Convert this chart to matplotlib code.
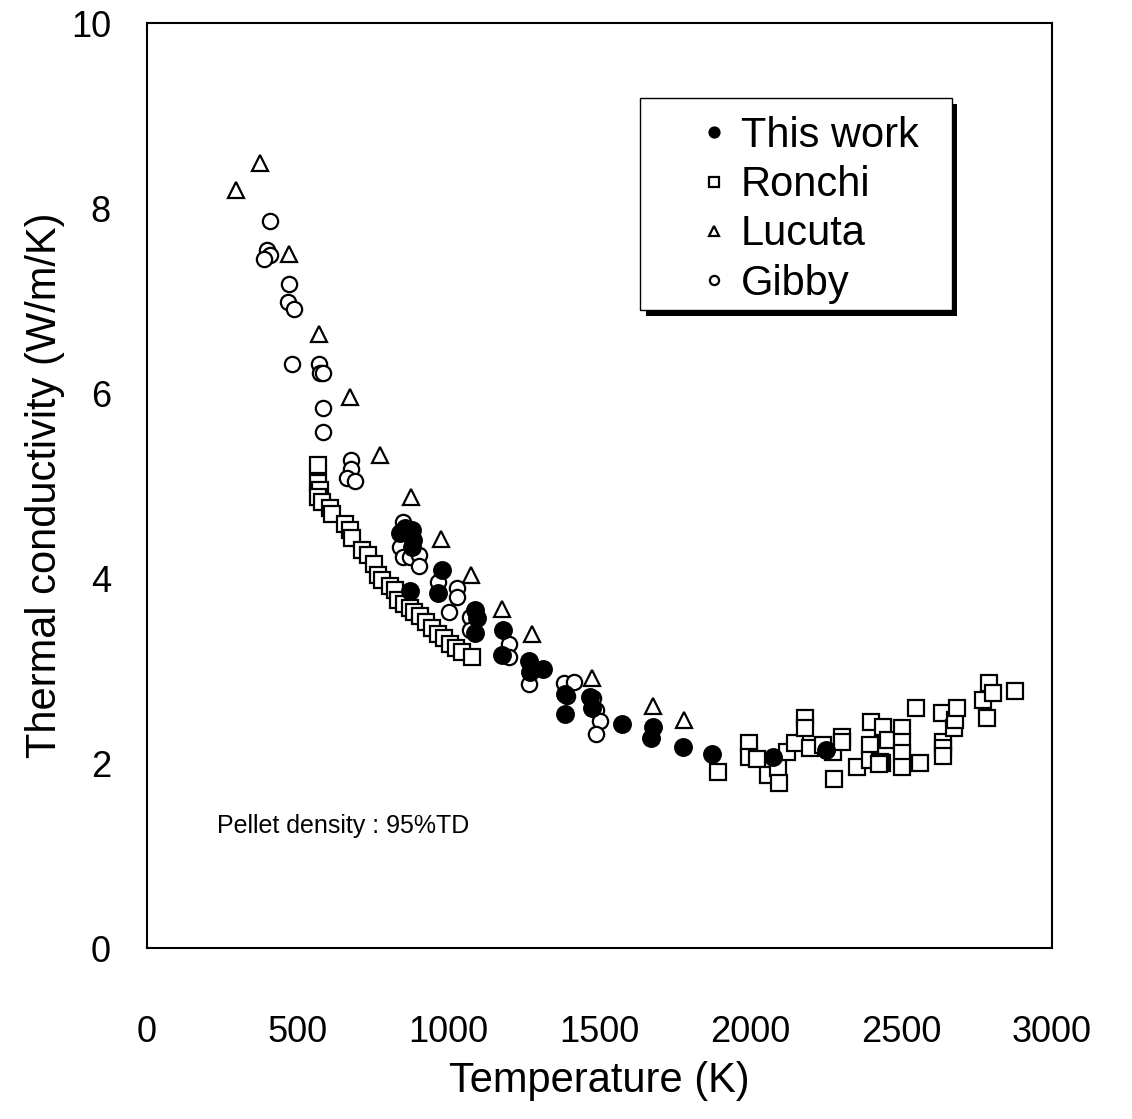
import matplotlib
matplotlib.use("Agg")
import matplotlib.pyplot as plt
from matplotlib.patches import Rectangle

plt.rcParams['font.family'] = ['Liberation Sans', 'DejaVu Sans']

# This work
tw_T = [839, 855, 878, 882, 878, 872, 978, 965, 1087, 1094, 1087, 1180, 1177,
        1266, 1270, 1313, 1386, 1386, 1468, 1475, 1575, 1677, 1671, 1777, 1873,
        2075, 2251]
tw_k = [4.49, 4.54, 4.52, 4.41, 4.34, 3.86, 4.09, 3.84, 3.65, 3.57, 3.41, 3.44,
        3.17, 3.10, 2.98, 3.02, 2.75, 2.53, 2.71, 2.59, 2.42, 2.39, 2.27, 2.17,
        2.10, 2.06, 2.14]

# Ronchi
ro_T = [567, 567, 573, 567, 580, 607, 613, 656, 673, 680, 713, 733, 752, 766,
        779, 805, 822, 832, 852, 872, 885, 905, 925, 945, 965, 985, 1004, 1024,
        1044, 1077,
        1893, 1996, 1996, 2022, 2059, 2092, 2095, 2122, 2148, 2181, 2181, 2198,
        2241, 2274, 2277, 2304, 2304, 2354, 2397, 2397, 2400, 2436, 2440, 2456,
        2503, 2503, 2503, 2503, 2549, 2562, 2635, 2639, 2639, 2639, 2675, 2678,
        2685, 2771, 2784, 2791, 2804, 2877, 2430, 2425]
ro_k = [5.22, 5.03, 4.95, 4.88, 4.82, 4.76, 4.69, 4.58, 4.52, 4.43, 4.30, 4.25,
        4.15, 4.03, 3.98, 3.91, 3.87, 3.76, 3.72, 3.68, 3.63, 3.59, 3.52, 3.46,
        3.39, 3.35, 3.29, 3.24, 3.20, 3.15,
        1.90, 2.22, 2.06, 2.04, 1.87, 1.95, 1.78, 2.12, 2.22, 2.49, 2.38, 2.16,
        2.19, 2.12, 1.83, 2.28, 2.23, 1.96, 2.19, 2.03, 2.44, 2.00, 2.39, 2.25,
        2.38, 2.23, 2.11, 1.96, 2.59, 2.00, 2.54, 2.23, 2.16, 2.08, 2.38, 2.46,
        2.59, 2.68, 2.49, 2.86, 2.76, 2.78, 2.01, 1.99]

# Lucuta
lu_T = [295, 375, 471, 570, 673, 772, 875, 974, 1074, 1176, 1276, 1475, 1677, 1780]
lu_k = [8.19, 8.49, 7.50, 6.64, 5.96, 5.33, 4.88, 4.42, 4.03, 3.67, 3.39, 2.92,
        2.62, 2.47]

# Gibby
gi_T = [408, 398, 408, 388, 471, 467, 487, 481, 570, 573, 583, 583, 583, 676,
        676, 663, 690, 849, 839, 849, 872, 902, 902, 965, 1028, 1028, 1001, 1071,
        1071, 1200, 1200, 1266, 1381, 1414, 1391, 1477, 1487, 1500, 1487]
gi_k = [7.86, 7.55, 7.49, 7.45, 7.18, 6.98, 6.91, 6.31, 6.31, 6.22, 6.22, 5.84,
        5.58, 5.28, 5.18, 5.08, 5.05, 4.61, 4.34, 4.23, 4.23, 4.25, 4.13, 3.96,
        3.89, 3.79, 3.63, 3.58, 3.44, 3.29, 3.15, 2.85, 2.87, 2.88, 2.72, 2.70,
        2.57, 2.45, 2.31]

fig = plt.figure(figsize=(11.32, 11.19), dpi=100)
ax = fig.add_axes([0.1299, 0.1528, 0.7994, 0.8266])

ms = 11
mew = 1.6
ax.plot(ro_T, ro_k, 's', ms=ms, mfc='white', mec='black', mew=mew, ls='none', label='Ronchi', zorder=2)
ax.plot(lu_T, lu_k, '^', ms=ms+1, mfc='white', mec='black', mew=mew, ls='none', label='Lucuta', zorder=2)
ax.plot(gi_T, gi_k, 'o', ms=ms, mfc='white', mec='black', mew=mew, ls='none', label='Gibby', zorder=2)
ax.plot(tw_T, tw_k, 'o', ms=ms+1, mfc='black', mec='black', mew=mew, ls='none', label='This work', zorder=3)

ax.set_xlim(0, 3000)
ax.set_ylim(0, 10)
ax.set_xticks([0, 500, 1000, 1500, 2000, 2500, 3000])
ax.set_yticks([0, 2, 4, 6, 8, 10])
ax.tick_params(length=0, labelsize=26)
ax.tick_params(axis='x', pad=48)
ax.tick_params(axis='y', pad=26)
for s in ax.spines.values():
    s.set_linewidth(1.5)

ax.set_xlabel('Temperature (K)', fontsize=30, labelpad=8)
ax.set_ylabel('Thermal conductivity (W/m/K)', fontsize=30, labelpad=4)

ax.text(232, 1.32, 'Pellet density : 95%TD', fontsize=18, va='center', ha='left')

# legend frame + shadow drawn by hand
ax.add_patch(Rectangle((0.5516, 0.6835), 0.344, 0.229, transform=ax.transAxes,
                       facecolor='black', edgecolor='none', zorder=4, clip_on=False))
ax.add_patch(Rectangle((0.545, 0.690), 0.344, 0.229, transform=ax.transAxes,
                       facecolor='white', edgecolor='black', lw=1.0, zorder=5, clip_on=False))

h, l = ax.get_legend_handles_labels()
order = [3, 0, 1, 2]
leg = ax.legend([h[i] for i in order], [l[i] for i in order],
                loc='upper left', bbox_to_anchor=(0.6077, 0.8995),
                fontsize=30, markerscale=0.6, frameon=False,
                handlelength=0.8, handletextpad=0.25, borderpad=0,
                labelspacing=0.22, borderaxespad=0)
leg.set_zorder(6)

fig.savefig('out.png', dpi=100)
